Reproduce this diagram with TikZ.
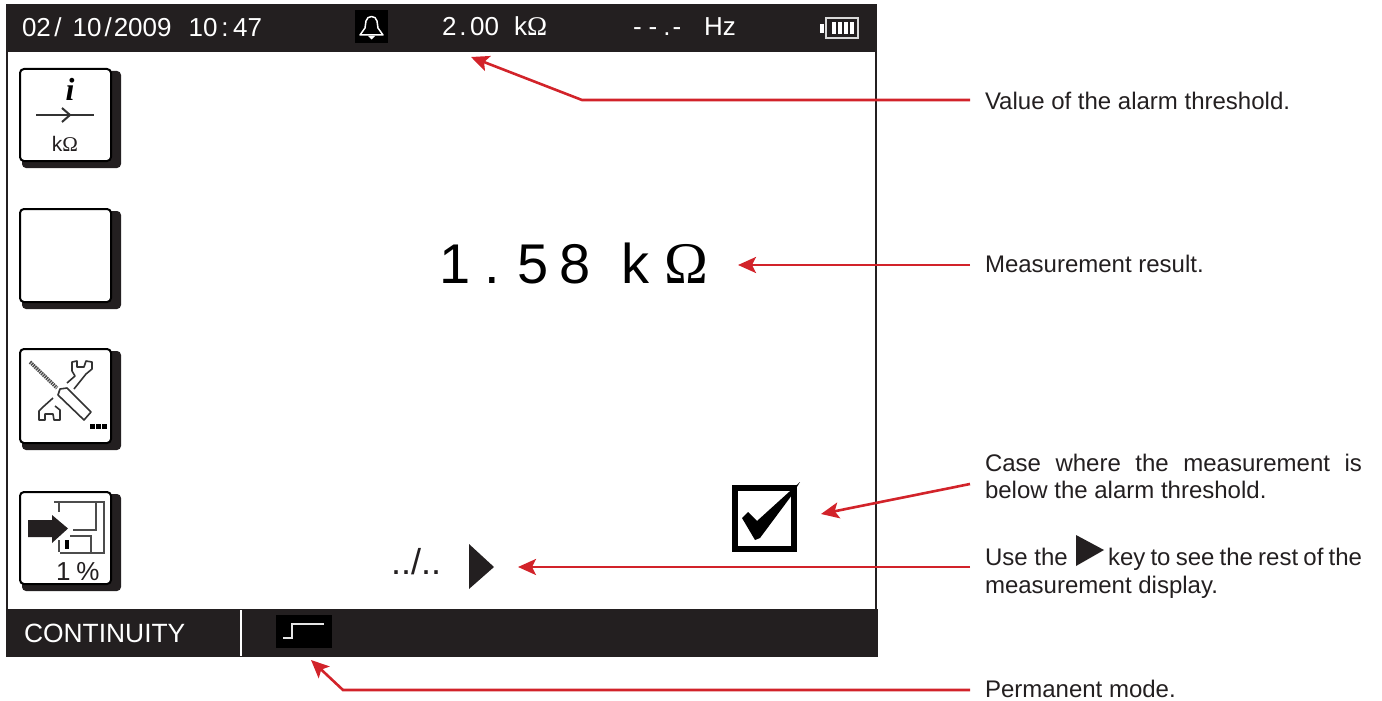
\documentclass[tikz,border=0pt]{standalone}
\usepackage{fontspec}
\setmainfont{Liberation Sans}
\newfontfamily\serifface{Liberation Serif}
\usetikzlibrary{arrows.meta}
\definecolor{barcol}{HTML}{231F20}
\definecolor{redcol}{HTML}{D2232A}
\newcommand{\fsz}[1]{\fontsize{#1}{#1}\selectfont}
\tikzset{
  txt/.style={inner sep=0pt,outer sep=0pt,anchor=base west},
  note/.style={txt,text=barcol,font=\fsz{24}},
  scr/.style={txt,text=white,font=\fsz{26}},
  callout/.style={draw=redcol,line width=2.6pt,-{Stealth[length=18pt,width=16pt,inset=4pt]},line join=miter},
  keyface/.style={draw=black,fill=white,line width=2pt,rounded corners=4pt},
  keyshadow/.style={fill=barcol,rounded corners=4pt},
  icon/.style={draw=black!80,line width=1.6pt}
}
\newcommand{\softkey}[2]{%
  \fill[keyshadow] (22,#1+3) rectangle (121,#2+1);
  \draw[keyface] (20,#1+1) rectangle (111,#2-6);
}
\begin{document}
\begin{tikzpicture}[x=1pt,y=-1pt]
\useasboundingbox (0,0) rectangle (1382,701);
% screen
\draw[barcol,line width=2pt] (7,50) -- (7,610) (876,50) -- (876,610);
\fill[barcol] (6,4) rectangle (877,52);
\fill[barcol] (6,609) rectangle (878,657);
% top bar
\node[scr] (date) at (22,37) {02\hspace{3.5pt}/\hspace{11pt}10\hspace{3pt}/\hspace{2pt}2009\hspace{17pt}10\hspace{4pt}:\hspace{4.5pt}47};
\fill[black] (355,10) rectangle (388,43);
\draw[white,line width=1.5pt,line join=round] (360,35) -- (383,35) -- (378,28) -- (377,21) .. controls (376,15) and (367,15) .. (366,21) -- (365,28) -- cycle;
\fill[white] (368,36) -- (375,36) -- (371.5,39.5) -- cycle;
\node[scr] (thresh) at (442,36) {2\hspace{3pt}.\hspace{3.5pt}00\hspace{15pt}k{\serifface\fsz{27}Ω}};
\node[scr] (freq) at (633,36) {-\hspace{7pt}-\hspace{6pt}.\hspace{2pt}-\hspace{23pt}Hz};
\draw[white!85!black,line width=1.5pt] (826,18) rectangle (858,38);
\fill[white] (820,24) rectangle (824,33);
\foreach \bx in {832,838,844,850} \fill[white] (\bx,22.5) rectangle (\bx+4.2,34);
% softkey 1
\softkey{68}{167}
\node[txt,anchor=center,font=\serifface\bfseries\itshape\fsz{32}] (infoi) at (70,89) {i};
\draw[icon] (36,115) -- (94,115);
\draw[icon,line width=2pt] (62,108) -- (70,115) -- (62,122);
\node[txt,text=barcol,anchor=base,font=\fsz{21}] (kohm) at (65,151) {k{\serifface Ω}};
% softkey 2
\softkey{208}{308}
% softkey 3
\softkey{348}{449}
\draw[black!70,line width=3.6pt,dash pattern=on 1.5pt off 0.8pt] (30,362) -- (57,388);
\draw[icon,line join=round] (67,388) -- (91,412) -- (84,420) -- (58,395) -- (60,389) -- cycle;
\draw[icon,line join=round] (67,383) -- (75,376) -- (72,371) -- (72,362) -- (77,361) -- (77,367) -- (84,367) -- (86,361) -- (92,362) -- (92,369) -- (86,374) -- (74,389);
\draw[icon,line join=round] (43,407) -- (53,398) (43,407) -- (39,411) -- (39,420) -- (45,420) -- (45,414) -- (53,414) -- (54,420) -- (60,420) -- (60,410) -- (55,406);
\foreach \dx in {90,96,102} \fill[black] (\dx,424) rectangle (\dx+4.5,428.5);
% softkey 4
\softkey{491}{590}
\draw[black!70,line width=1.6pt] (54,502) -- (104,502) -- (104,553) -- (60,553);
\draw[black!70,line width=1.6pt] (96,503) -- (96,530) -- (73,530);
\draw[black!70,line width=1.6pt] (70,536) -- (91,536) -- (91,553);
\draw[black!70,line width=1.6pt] (59,503) -- (59,512) (59,540) -- (59,552);
\fill[black] (65,540) rectangle (69,549);
\fill[barcol] (28,520) -- (52,520) -- (52,515) -- (68,528.5) -- (52,543) -- (52,537) -- (28,537) -- cycle;
\node[txt,text=barcol,font=\fsz{26}] (pct) at (56,580) {1\hspace{6pt}\%};
% centre result
\node[txt,text=black,font=\fsz{56}] (result) at (439,283) {1\hspace{14pt}.\hspace{18pt}5\hspace{11pt}8\hspace{31pt}k\hspace{15pt}{\serifface\fsz{59}Ω}};
% checkbox
\draw[black,line width=6pt] (735,488) rectangle (794,549);
\fill[black] (742,518) -- (748,512) -- (757,521) -- (800,482) -- (792,495) -- (760,538) -- (755,540) -- cycle;
% pager
\node[txt,text=barcol,font=\fsz{36}] (pager) at (391,574) {../..};
\fill[barcol] (469,544) -- (494,567) -- (469,589) -- cycle;
% bottom bar
\node[scr,font=\fsz{26.4}] (mode) at (24,642) {CONTINUITY};
\draw[white,line width=2pt] (241,610) -- (241,656);
\fill[black] (276,615) rectangle (332,648);
\draw[white!90!black,line width=1.8pt] (283,638) -- (292,638) -- (292,624) -- (324,624);
% labels
\node[note] (lbA) at (985,110) {Value of the alarm threshold.};
\node[note] (lbB) at (985,272) {Measurement result.};
\node[note] (lbC) at (985,471) {\makebox[377pt][s]{Case where the measurement is}};
\node[note] (lbCb) at (985,498) {below the alarm threshold.};
\node[note] (lbD) at (985,565) {Use the};
\fill[barcol] (1076,535) -- (1104,550) -- (1076,566) -- cycle;
\node[note] (lbDb) at (1108,565) {\makebox[254pt][s]{key to see the rest of the}};
\node[note] (lbDc) at (985,593) {measurement display.};
\node[note] (lbE) at (985,697) {Permanent mode.};
% connector coordinates
\coordinate (sA) at (970,100); \coordinate (kA) at (582,100); \coordinate (tA) at (471,57);
\coordinate (sB) at (970,265); \coordinate (tB) at (738,265);
\coordinate (sC) at (970,484); \coordinate (tC) at (821,514);
\coordinate (sD) at (970,567); \coordinate (tD) at (518,567);
\coordinate (sE) at (970,690); \coordinate (kE) at (343,690); \coordinate (tE) at (311,660);
\draw[callout] (sA) -- (kA) -- (tA);
\draw[callout] (sB) -- (tB);
\draw[callout] (sC) -- (tC);
\draw[callout] (sD) -- (tD);
\draw[callout] (sE) -- (kE) -- (tE);
\end{tikzpicture}
\end{document}
